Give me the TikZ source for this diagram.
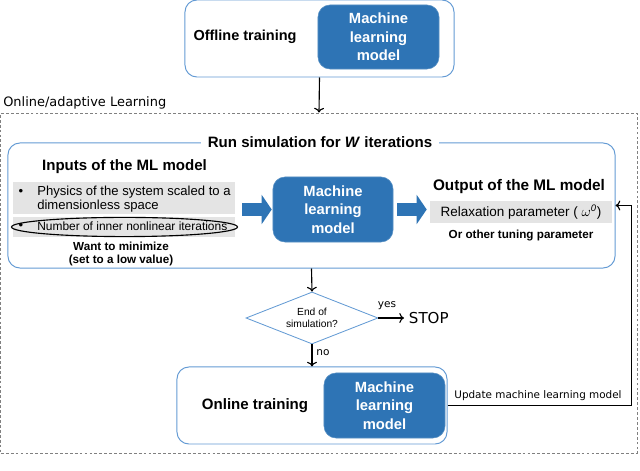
\documentclass[tikz,border=0pt]{standalone}
\usepackage{fontspec}
\setmainfont{Liberation Sans}
\newfontfamily\dejavu{DejaVu Sans}
\usepackage{tikz}
\usetikzlibrary{arrows.meta, positioning, shapes.geometric, calc}

\definecolor{mlblue}{RGB}{46,116,181}
\definecolor{lineblue}{RGB}{100,155,212}
\definecolor{rowgray}{RGB}{228,228,228}

\begin{document}
\begin{tikzpicture}[x=0.025cm, y=-0.025cm,
    frame/.style={draw=lineblue, line width=0.7pt, fill=white, rounded corners=0.3cm},
    mlbox/.style={fill=mlblue, draw=mlblue!80!white, rounded corners=0.3cm, text=white, align=center,
        font=\bfseries\fontsize{10.5}{13}\selectfont},
    rowbox/.style={fill=rowgray, inner sep=0pt},
    head/.style={font=\bfseries\fontsize{10.7}{13}\selectfont},
    note/.style={font=\bfseries\fontsize{8.3}{9.6}\selectfont, align=center},
    small/.style={font=\fontsize{9.3}{10}\selectfont},
    blockarrow/.style={draw=mlblue, line width=0.33cm, -{Triangle[width=0.72cm, length=0.25cm]}},
    flow/.style={->, thick}
]
\useasboundingbox (0,0) rectangle (640,471);

% Offline training
\node[frame, minimum width=6.725cm, minimum height=1.925cm] (offline) at (319.5,38.5) {};
\node[mlbox, minimum width=3.025cm, minimum height=1.6cm] (mloff) at (378.5,37) {Machine\\learning\\model};
\node[head, font=\bfseries\fontsize{10.3}{13}\selectfont] (offtxt) at (245,37) {Offline training};

% Online/adaptive Learning
\node[draw=gray, dash pattern=on 2pt off 1.5pt, line width=0.6pt, minimum width=15.9cm, minimum height=8.5cm] (adaptive) at (319,283) {};
\node[anchor=west, inner sep=0pt, font=\dejavu\fontsize{9.2}{11}\selectfont] (adtxt) at (3,103) {Online/adaptive Learning};
\draw[flow] (offline.south) -- (adaptive.north);

% Run simulation
\node[frame, minimum width=15.175cm, minimum height=3.125cm] (run) at (311.5,205.5) {};
\node[head, fill=white, inner xsep=5pt, inner ysep=1pt] (runtxt) at (320,142) {Run simulation for \textit{W} iterations};

% Inputs
\node[head] (intitle) at (124.5,167) {Inputs of the ML model};
\node[rowbox, minimum width=5.55cm, minimum height=0.8cm] (inrow1) at (124,198) {};
\node[rowbox, minimum width=5.55cm, minimum height=0.5cm] (inrow2) at (124,227) {};
\node[small] (bul1) at (21,192) {•};
\node[small, anchor=west, align=left, inner sep=0pt] (phys) at (37,199) {Physics of the system scaled to a\\dimensionless space};
\node[small] (bul2) at (21,226) {•};
\node[small, font=\fontsize{8.5}{10}\selectfont, anchor=west, inner sep=0pt] (iters) at (37,226.5) {Number of inner nonlinear iterations};
\node[draw, ellipse, line width=0.8pt, minimum width=5.65cm, minimum height=0.48cm] (circ) at (124.5,227) {};
\node[note] (want) at (121,254) {Want to minimize\\(set to a low value)};

% Machine learning model
\node[mlbox, minimum width=3cm, minimum height=1.625cm] (mlmid) at (333,209.5) {Machine\\learning\\model};

% Output
\node[head, font=\bfseries\fontsize{10.9}{13}\selectfont] (outtitle) at (519,187) {Output of the ML model};
\node[rowbox, minimum width=4.55cm, minimum height=0.55cm, font=\fontsize{9.6}{11}\selectfont] (outrow) at (521,212) {Relaxation parameter ( $\omega^{\mathit{0}}$)};
\node[note] (other) at (521,236) {Or other tuning parameter};

\draw[blockarrow, shorten <=0.175cm, shorten >=0.025cm] (inrow1.east |- mlmid.west) -- (mlmid.west);
\draw[blockarrow, shorten <=0.1cm, shorten >=0.075cm] (mlmid.east) -- (outrow.west |- mlmid.east);

% End of simulation
\node[draw=lineblue, line width=0.6pt, diamond, aspect=2.5, inner sep=0pt, minimum width=3.3cm, minimum height=1.3cm,
    align=center, font=\fontsize{7.3}{8.6}\selectfont] (endsim) at (312,318) {End of\\simulation?};
\node[anchor=west, font=\dejavu\fontsize{10.7}{12}\selectfont] (stop) at (404,318) {STOP};
\draw[flow] (run.south) -- (endsim.north);
\draw[flow] (endsim.east) -- (stop.west);
\node[font=\dejavu\fontsize{7.5}{9}\selectfont] (yes) at (387,306) {yes};

% Online training
\node[frame, minimum width=6.75cm, minimum height=1.925cm] (online) at (312,405.5) {};
\node[mlbox, minimum width=3.025cm, minimum height=1.625cm] (mlon) at (384.5,405.5) {Machine\\learning\\model};
\node[head] (ontxt) at (255,406) {Online training};
\draw[flow] (endsim.south) -- (online.north);
\node[font=\dejavu\fontsize{7.5}{9}\selectfont] (no) at (323,353) {no};

% Update
\coordinate (turn) at ($(run.east)+(16,0)$);
\draw[flow] (online.east) -| (turn) -- (run.east);
\node[font=\dejavu\fontsize{7.4}{9}\selectfont] (update) at (538,396) {Update machine learning model};

\end{tikzpicture}
\end{document}
